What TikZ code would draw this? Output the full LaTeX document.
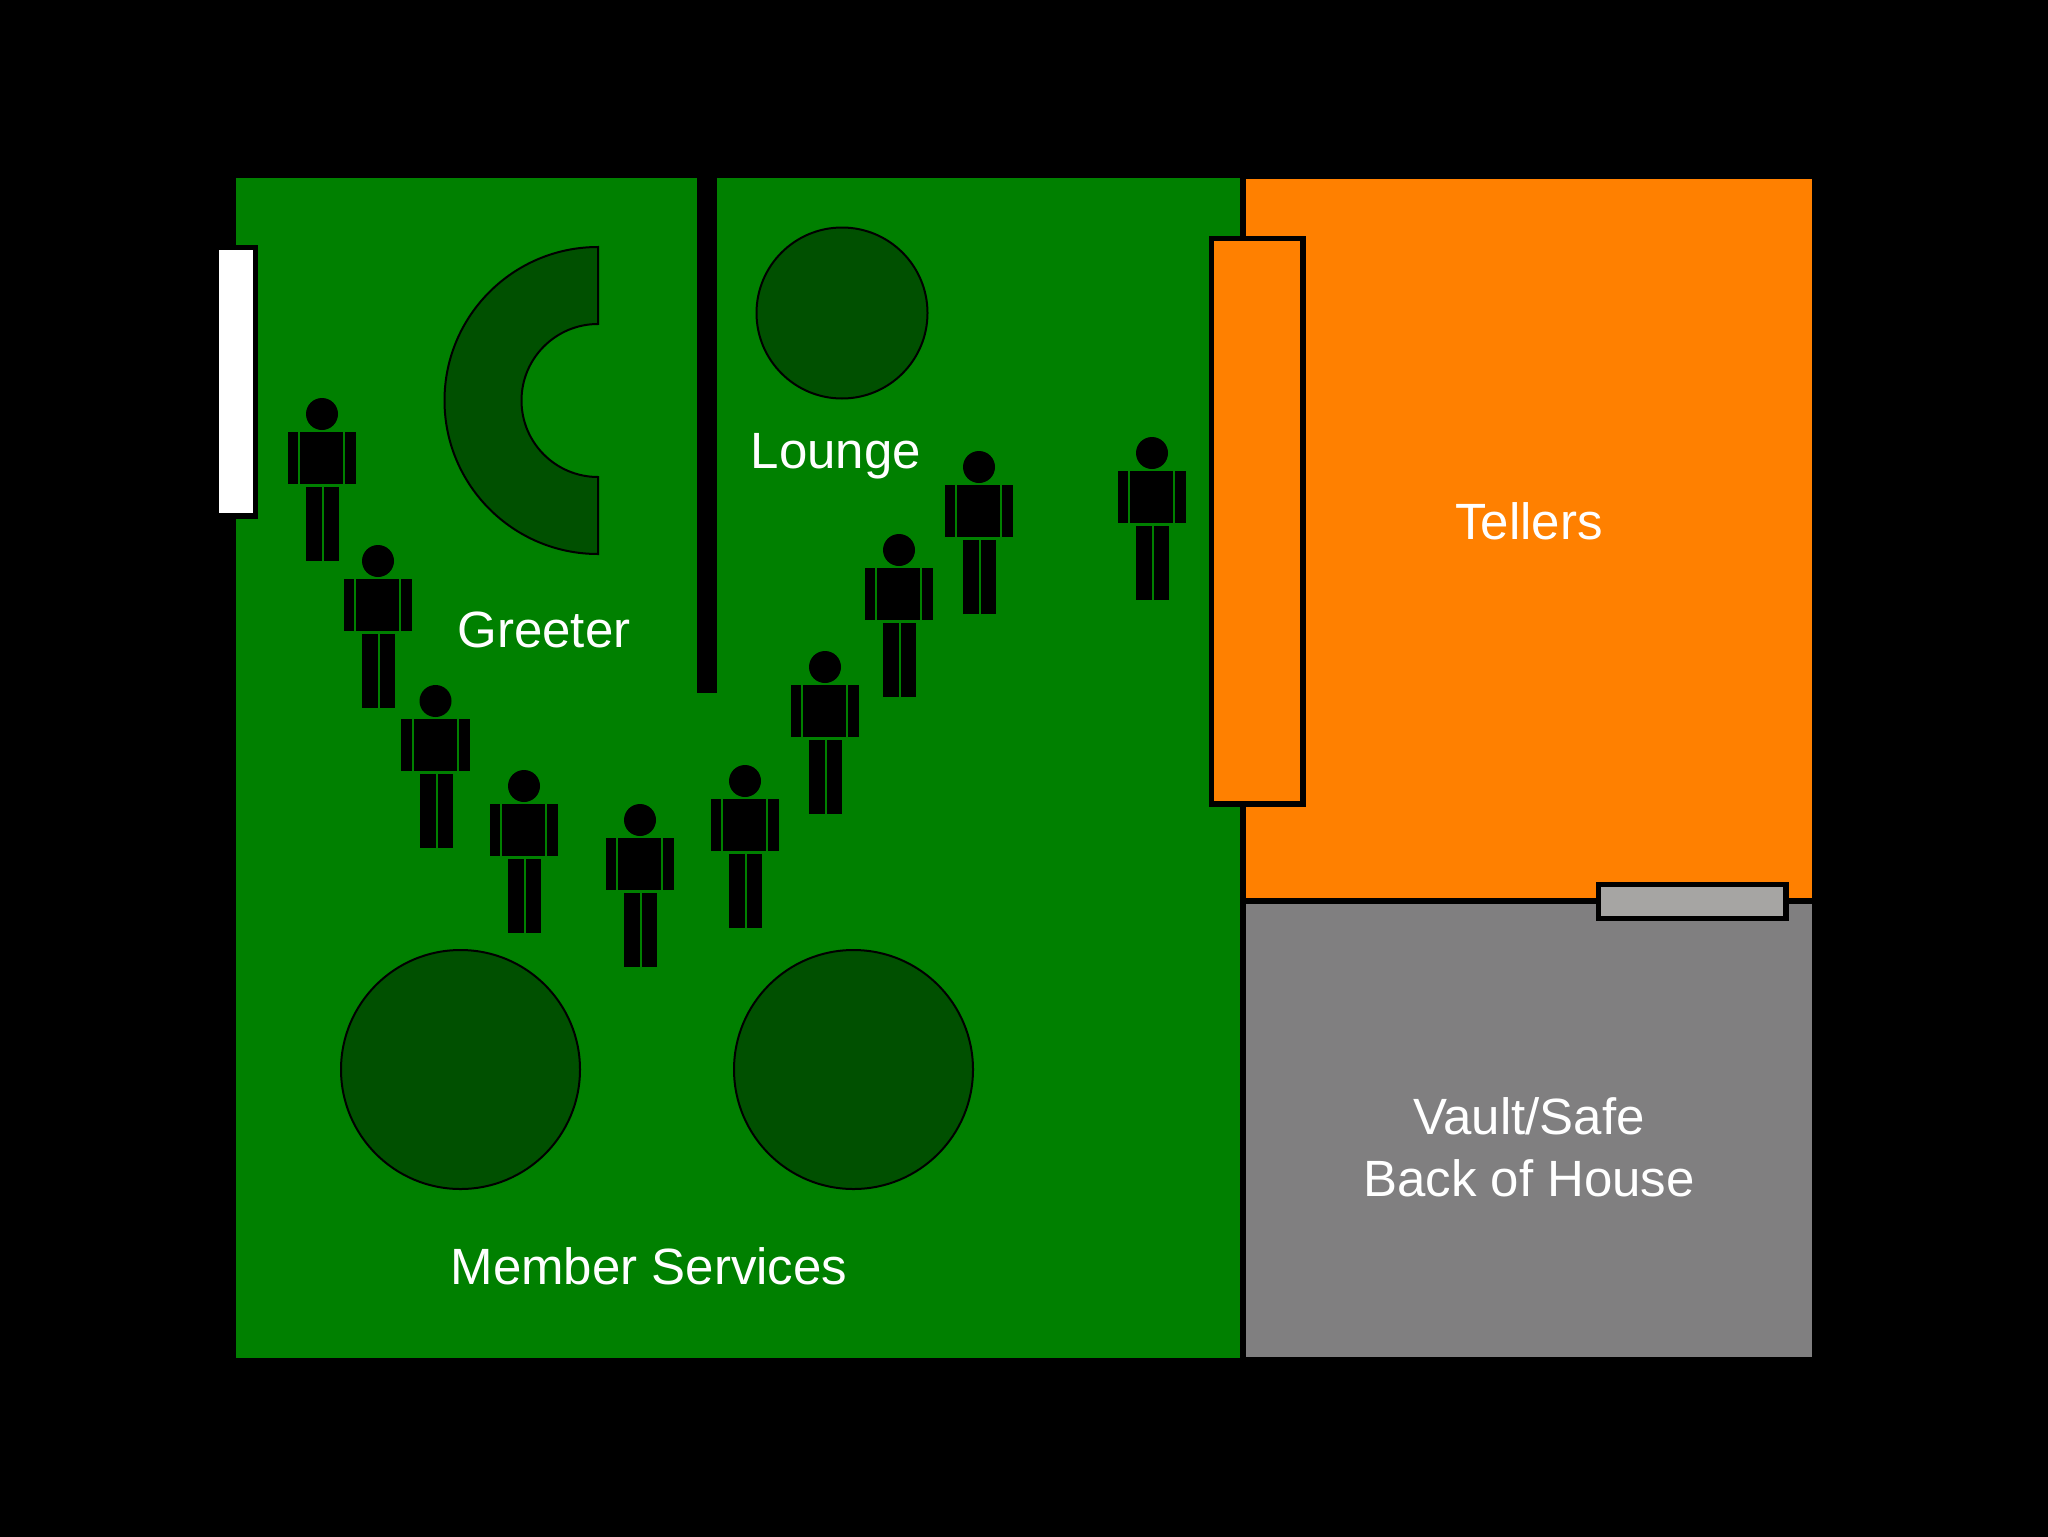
\documentclass[tikz,border=0pt]{standalone}
\usepackage{fontspec}
\setmainfont{Liberation Sans}
\definecolor{floorgreen}{HTML}{008000}
\definecolor{darkgreen}{HTML}{005000}
\definecolor{tellerorange}{HTML}{FF8000}
\definecolor{vaultgray}{HTML}{807F80}
\definecolor{slotgray}{HTML}{A6A5A3}
\tikzset{
  room/.style={fill=#1,draw=none},
  furniture/.style={fill=darkgreen,draw=black,line width=1pt},
  counter/.style={draw=black,line width=2.75pt,fill=#1},
  roomlabel/.style={text=white,font=\fontsize{25.5}{30}\selectfont,align=center,inner sep=0pt},
  person/.pic={
    \fill[black] (0,-1) circle (16);
    \fill[black] (-34.5,17) rectangle (-24,69);
    \fill[black] (-22,17) rectangle (21,69);
    \fill[black] (23,17) rectangle (34,69);
    \fill[black] (-16,72) rectangle (0,146);
    \fill[black] (2,72) rectangle (17,146);
  }
}
\begin{document}
\begin{tikzpicture}[x=0.5pt,y=-0.5pt]
\useasboundingbox (0,0) rectangle (2048,1536);
\fill[black] (-10,-10) rectangle (2058,1546);
% rooms
\fill[room=floorgreen] (236,178) rectangle (1240,1358);
\fill[room=tellerorange] (1246,179) rectangle (1812,898);
\fill[room=vaultgray] (1246,904) rectangle (1812,1357);
% door
\draw[counter=white] (216.5,247.5) rectangle (255.5,516);
% partition wall
\fill[black] (697,178) rectangle (717,693);
% teller counter
\draw[counter=tellerorange] (1211.5,238.5) rectangle (1303,804);
% pass-through
\draw[counter=slotgray] (1598.5,884.5) rectangle (1786,918.5);
% greeter desk
\draw[furniture] (598,247) arc[start angle=270,end angle=90,radius=153.5] -- (598,477) arc[start angle=90,end angle=270,radius=76.5] -- cycle;
% round tables
\draw[furniture] (842,313) circle (85.5);
\draw[furniture] (460.5,1069.5) circle (119.5);
\draw[furniture] (853.5,1069.5) circle (119.5);
% people
\foreach \px/\py in {322/415,378/562,435.5/702,524/787,640/821,745/782,825/668,899/551,979/468,1152/454}
  \pic at (\px,\py) {person};
% labels
\node[roomlabel] (lounge) at (836,456) {Lounge};
\node[roomlabel] (greeter) at (544,630) {Greeter};
\node[roomlabel] (tellers) at (1529,521) {Tellers};
\node[roomlabel] (vault) at (1529,1147) {Vault/Safe\\[1pt]Back of House};
\node[roomlabel] (member) at (649,1266) {Member Services};
\end{tikzpicture}
\end{document}
